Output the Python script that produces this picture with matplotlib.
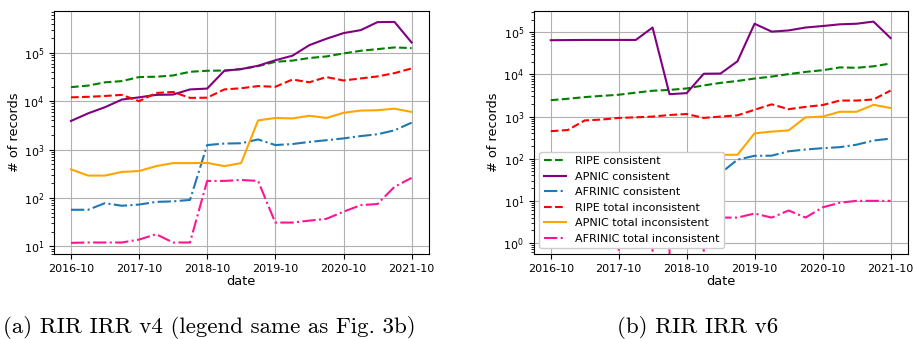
import numpy as np
import pandas as pd
import matplotlib
matplotlib.use("Agg")
import matplotlib.pyplot as plt
import matplotlib.dates as mdates

# ------------------------------------------------------------
# DATA (quarterly snapshots, 2016-10 .. 2021-10)
# ------------------------------------------------------------
dates = pd.date_range("2016-10-01", "2021-10-01", freq="3MS")

labels = ["RIPE consistent", "APNIC consistent", "AFRINIC consistent",
          "RIPE total inconsistent", "APNIC total inconsistent", "AFRINIC total inconsistent"]

# (a) IPv4
v4_ripe_cons = [19500, 21000, 24500, 26000, 31500, 32000, 34000, 40500, 42500, 43000, 46000,
                53000, 65000, 69000, 78000, 84000, 97000, 110000, 119000, 129000, 125000]
v4_apnic_cons = [3900, 5600, 7500, 10800, 12000, 13500, 13700, 17500, 18200, 42500, 46000,
                 54000, 70000, 87000, 144000, 195000, 255000, 294000, 430000, 435000, 163000]
v4_afrinic_cons = [57, 57, 78, 69, 73, 83, 85, 91, 1240, 1330, 1350,
                   1620, 1240, 1300, 1440, 1560, 1700, 1900, 2070, 2500, 3600]
v4_ripe_incons = [12000, 12300, 12800, 13500, 10000, 14800, 15500, 11700, 11800, 17500, 18500,
                  20500, 19800, 28000, 24600, 31500, 26800, 29500, 32500, 38000, 47500]
v4_apnic_incons = [390, 290, 290, 345, 360, 455, 525, 525, 530, 455, 525,
                   4000, 4500, 4400, 5000, 4500, 5750, 6400, 6500, 7000, 6000]
v4_afrinic_incons = [11.8, 12, 12, 12, 13.8, 17.8, 12, 12, 225, 225, 235,
                     225, 31, 31, 34, 37, 52, 71, 75, 170, 260]

# (b) IPv6
v6_ripe_cons = [2450, 2650, 2900, 3100, 3300, 3700, 4100, 4300, 4650, 5500, 6300,
                7000, 8000, 8900, 10200, 11500, 12600, 14700, 14400, 15600, 18200]
v6_apnic_cons = [65000, 65500, 66000, 66000, 66000, 66000, 130000, 3400, 3600, 10400, 10500,
                 20500, 160000, 104000, 111000, 130000, 141000, 155000, 160000, 180000, 73000]
v6_afrinic_cons = [20, 22, 25, 25, 28, 30, 30, 32, 35, 40, 45,
                   95, 117, 118, 150, 165, 178, 188, 215, 270, 300]
v6_ripe_incons = [450, 480, 810, 850, 930, 960, 1000, 1090, 1150, 930, 1000,
                  1070, 1450, 1950, 1500, 1700, 1880, 2400, 2400, 2550, 4150]
v6_apnic_incons = [80, 85, 90, 95, 100, 105, 110, 110, 115, 120, 124,
                   124, 400, 440, 470, 960, 1000, 1300, 1300, 1900, 1600]
v6_afrinic_incons = [1, 1, 2, 2, 3, 0, 2, 3, 0, 3, 4,
                     4, 5, 4, 5.9, 4, 7, 9, 10, 10, 10]

colors = ["green", "purple", "#1f77b4", "red", "orange", "deeppink"]
styles = ["--", "-", "-.", "--", "-", "-."]

plt.rcParams["font.size"] = 8
plt.rcParams["axes.labelsize"] = 9.3


def draw(ax, series, ylim=None):
    for vals, c, ls, lab in zip(series, colors, styles, labels):
        ax.plot(dates, vals, color=c, linestyle=ls, label=lab)
    ax.set_yscale("log")
    if ylim:
        ax.set_ylim(*ylim)
    ax.xaxis.set_major_locator(mdates.MonthLocator(bymonth=10))
    ax.xaxis.set_major_formatter(mdates.DateFormatter("%Y-%m"))
    ax.grid(True)
    ax.set_xlabel("date", labelpad=1)
    ax.set_ylabel("# of records", labelpad=2)


fig = plt.figure(figsize=(9.14, 3.39), dpi=100)
ax1 = fig.add_axes([0.059, 0.251, 0.410, 0.717])
ax2 = fig.add_axes([0.584, 0.251, 0.409, 0.717])

draw(ax1, [v4_ripe_cons, v4_apnic_cons, v4_afrinic_cons,
           v4_ripe_incons, v4_apnic_incons, v4_afrinic_incons])
draw(ax2, [v6_ripe_cons, v6_apnic_cons, v6_afrinic_cons,
           v6_ripe_incons, v6_apnic_incons, v6_afrinic_incons], ylim=(10 ** -0.26, 10 ** 5.51))
ax2.legend(loc="lower left", framealpha=1)

# captions (serif, like the paper)
fig.text(0.003, 0.018, "(a) RIR IRR v4 (legend same as Fig. 3b)", family="cmr10",
         fontsize=16.5, ha="left", va="baseline")
fig.text(0.675, 0.018, "(b) RIR IRR v6", family="cmr10",
         fontsize=16.5, ha="left", va="baseline")

fig.savefig("out.png", dpi=100)
